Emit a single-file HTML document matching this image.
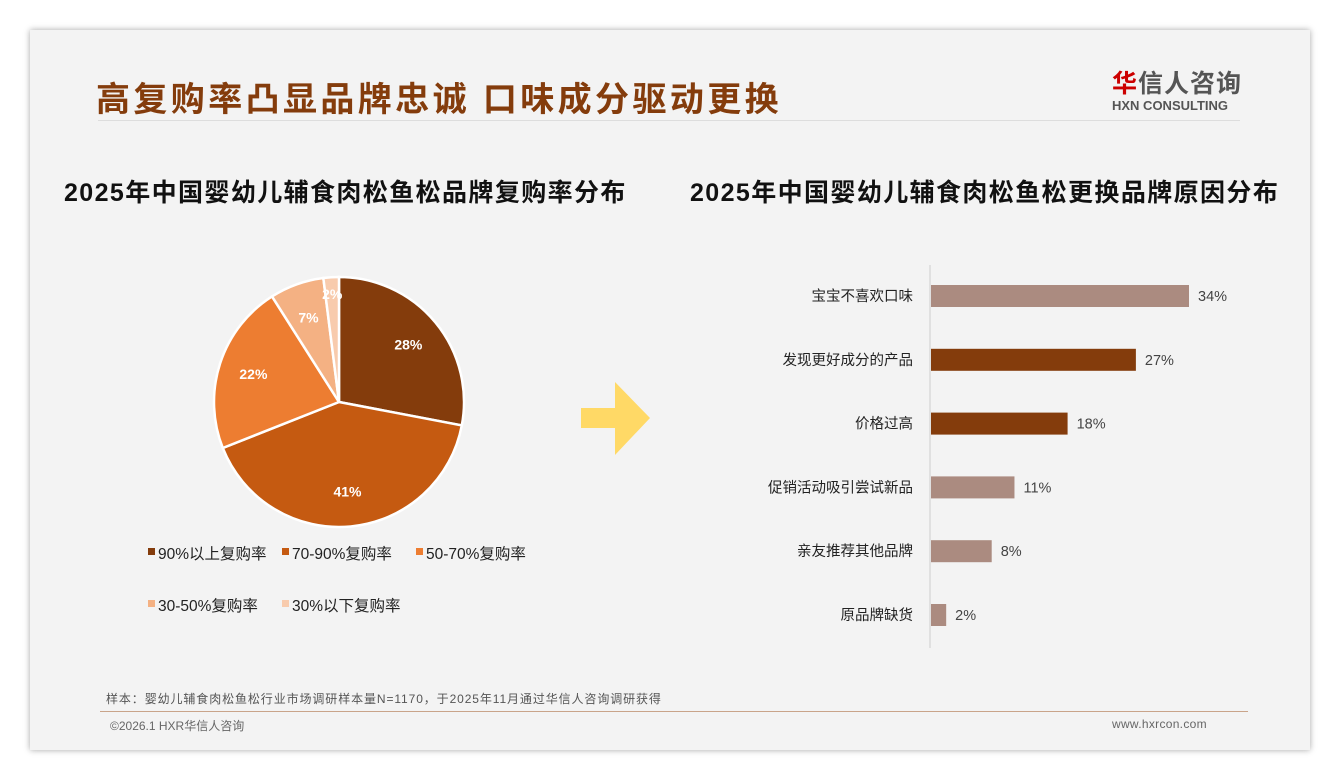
<!DOCTYPE html>
<html><head><meta charset="utf-8">
<style>
body{margin:0;width:1340px;height:780px;background:#fff;font-family:"Liberation Sans","Noto Sans CJK SC",sans-serif;position:relative;overflow:hidden}
.card{position:absolute;left:30px;top:30px;width:1280px;height:720px;background:#f3f3f3;box-shadow:0 0 6px rgba(0,0,0,.35)}
.abs{position:absolute;white-space:nowrap}
</style></head><body>
<div class="card">
<div class="abs" style="left:66px;top:42px;font-size:34px;font-weight:bold;color:#843c0c;letter-spacing:3.4px">高复购率凸显品牌忠诚 口味成分驱动更换</div>
<div class="abs" style="left:1082px;top:34px;text-align:left">
<div style="font-size:25px;font-weight:bold;color:#555;letter-spacing:1px"><span style="color:#c00">华</span>信人咨询</div>
<div style="font-size:13px;font-weight:bold;color:#555;margin-top:-2px">HXN CONSULTING</div></div>
<div class="abs" style="left:68px;top:90px;width:1142px;height:1px;background:#ddd"></div>
<div class="abs" style="left:34px;top:143px;font-size:25px;font-weight:bold;color:#111;letter-spacing:1.4px">2025年中国婴幼儿辅食肉松鱼松品牌复购率分布</div>
<div class="abs" style="left:660px;top:143px;font-size:25px;font-weight:bold;color:#111;letter-spacing:1.4px">2025年中国婴幼儿辅食肉松鱼松更换品牌原因分布</div>
<div class="abs" style="left:76px;top:660px;font-size:12px;color:#555;letter-spacing:0.9px">样本：婴幼儿辅食肉松鱼松行业市场调研样本量N=1170，于2025年11月通过华信人咨询调研获得</div>
<div class="abs" style="left:70px;top:681px;width:1148px;height:1px;background:#c9a48a"></div>
<div class="abs" style="left:80px;top:687px;font-size:12px;color:#666">©2026.1 HXR华信人咨询</div>
<div class="abs" style="left:1082px;top:687px;font-size:12px;color:#666;letter-spacing:0.3px">www.hxrcon.com</div>
</div>
<svg id="chart" class="abs" style="left:0;top:0" width="1340" height="780"></svg>
<script>
const pieLabels=["90%以上复购率","70-90%复购率","50-70%复购率","30-50%复购率","30%以下复购率"];
const pieValues=[28,41,22,7,2];
const pieColors=["#843c0c","#c55a11","#ed7d31","#f4b183","#f8cbad"];
const barCats=["宝宝不喜欢口味","发现更好成分的产品","价格过高","促销活动吸引尝试新品","亲友推荐其他品牌","原品牌缺货"];
const barValues=[34,27,18,11,8,2];
const barDark=[false,true,true,false,false,false];
const NS="http://www.w3.org/2000/svg";
const svg=document.getElementById('chart');
function mk(t,a,p){const e=document.createElementNS(NS,t);for(const k in a)e.setAttribute(k,a[k]);(p||svg).appendChild(e);return e;}
const cx=339,cy=402,r=125;const tot=pieValues.reduce((a,b)=>a+b,0);let ang=0;
pieValues.forEach((v,i)=>{const a0=ang,a1=ang+v/tot*2*Math.PI;ang=a1;
const p=(a,rr)=>[cx+rr*Math.sin(a),cy-rr*Math.cos(a)];
const [x0,y0]=p(a0,r),[x1,y1]=p(a1,r);
const s=mk('path',{d:`M${cx},${cy}L${x0},${y0}A${r},${r} 0 ${a1-a0>Math.PI?1:0} 1 ${x1},${y1}Z`,fill:pieColors[i],stroke:'#fff','stroke-width':2.5});


const [lx,ly]=p((a0+a1)/2,v<5?108:r*0.72);
const t=mk('text',{x:lx,y:ly+5,'text-anchor':'middle','font-size':14,'font-weight':'bold',fill:'#fff'});t.textContent=v+'%';


});
const lpos=[[148,553],[282,553],[416,553],[148,605],[282,605]];
pieLabels.forEach((l,i)=>{const g=mk('g',{});


mk('rect',{x:lpos[i][0],y:lpos[i][1]-5,width:7,height:7,fill:pieColors[i]},g);
const t=mk('text',{x:lpos[i][0]+10,y:lpos[i][1]+6,'font-size':15.5,fill:'#222'},g);t.textContent=l;});
const ar=mk('path',{d:'M581,408H615V382L650,418L615,455V428H581Z',fill:'#ffd966'});


const x0=930,scale=258/34,top0=296,step=63.8,bh=22;
const ax=mk('line',{x1:x0,y1:265,x2:x0,y2:648,stroke:'#ccc','stroke-width':1});


barCats.forEach((c,i)=>{const y=top0+i*step;
const b=mk('rect',{x:x0+1,y:y-bh/2,width:barValues[i]*scale,height:bh,fill:barDark[i]?'#843c0c':'#ab8b80'});


const t=mk('text',{x:913,y:y+5,'text-anchor':'end','font-size':14.5,fill:'#222'});t.textContent=c;


const v=mk('text',{x:x0+barValues[i]*scale+10,y:y+5,'font-size':14.5,fill:'#444'});v.textContent=barValues[i]+'%';


});
</script>
</body></html>
